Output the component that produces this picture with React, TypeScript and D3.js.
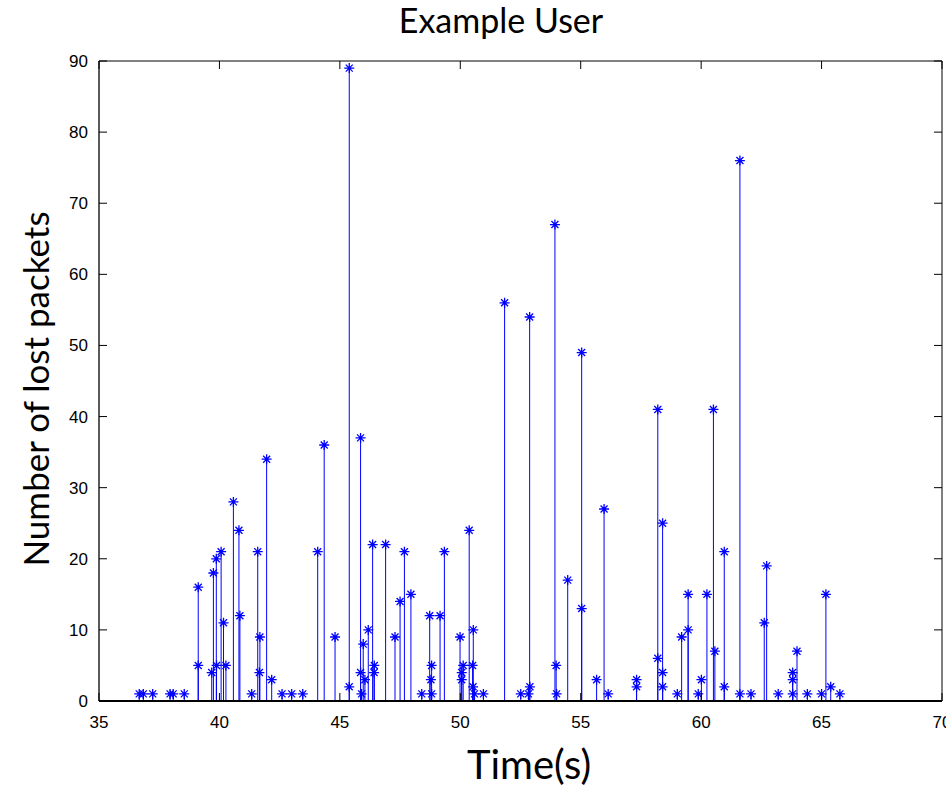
import React from "react";
import * as d3 from "d3";

// Time (s) of each loss event and the number of packets lost at that moment
const times = [
  36.67, 36.84, 37.23, 37.95, 38.08, 38.54, 39.12, 39.12, 39.68, 39.75,
  39.87, 39.88, 40.07, 40.17, 40.27, 40.58, 40.81, 40.85, 41.34, 41.59,
  41.68, 41.66, 41.96, 42.17, 42.6, 43.0, 43.46, 44.08, 44.35, 44.8,
  45.39, 45.39, 45.86, 45.86, 45.9, 45.97, 46.04, 46.18, 46.36, 46.43,
  46.42, 46.9, 47.29, 47.5, 47.68, 47.95, 48.4, 48.73, 48.81, 48.78,
  48.81, 49.16, 49.34, 49.99, 50.06, 50.06, 50.12, 50.37, 50.54, 50.51,
  50.53, 50.59, 50.96, 51.84, 52.51, 52.88, 52.89, 52.83, 53.93, 53.98,
  54.0, 54.46, 55.04, 55.04, 55.66, 55.97, 56.14, 57.32, 57.32, 58.2,
  58.2, 58.4, 58.4, 58.4, 59.01, 59.19, 59.46, 59.46, 59.88, 60.01,
  60.24, 60.51, 60.57, 60.96, 60.96, 61.61, 61.61, 62.07, 62.62, 62.72,
  63.2, 63.8, 63.8, 63.8, 63.98, 64.41, 65.0, 65.18, 65.38, 65.76,
];
const lost = [
  1, 1, 1, 1, 1, 1, 16, 5, 4, 18,
  20, 5, 21, 11, 5, 28, 24, 12, 1, 21,
  9, 4, 34, 3, 1, 1, 1, 21, 36, 9,
  89, 2, 37, 4, 1, 8, 3, 10, 22, 5,
  4, 22, 9, 14, 21, 15, 1, 12, 5, 3,
  1, 12, 21, 9, 4, 3, 5, 24, 10, 5,
  2, 1, 1, 56, 1, 54, 2, 1, 67, 5,
  1, 17, 49, 13, 3, 27, 1, 3, 2, 41,
  6, 25, 4, 2, 1, 9, 15, 10, 1, 3,
  15, 41, 7, 21, 2, 76, 1, 1, 11, 19,
  1, 4, 3, 1, 7, 1, 1, 15, 2, 1,
];
const xTicks = [35, 40, 45, 50, 55, 60, 65, 70];
const yTicks = [0, 10, 20, 30, 40, 50, 60, 70, 80, 90];

const W = 946;
const H = 789;
const margin = { left: 99, right: 4, top: 61, bottom: 88 };
const tickLen = 8;
const blue = "#0000ff";
const labelFont = "Lato, 'Open Sans', sans-serif";
const tickFont = "'Liberation Sans', Arial, sans-serif";

function Asterisk({ cx, cy }: { cx: number; cy: number }) {
  const r = 5;
  const d = 3.5;
  const path = `M${cx - r},${cy}H${cx + r}M${cx},${cy - r}V${cy + r}` +
    `M${cx - d},${cy - d}L${cx + d},${cy + d}M${cx - d},${cy + d}L${cx + d},${cy - d}`;
  return <path d={path} stroke={blue} strokeWidth={1.3} fill="none" />;
}

export default function App() {
  const x = d3.scaleLinear().domain([35, 70]).range([margin.left, W - margin.right]);
  const y = d3.scaleLinear().domain([0, 90]).range([H - margin.bottom, margin.top]);
  const [x0, x1] = x.range();
  const [y0, y1] = y.range();
  const points = d3.zip(times, lost) as [number, number][];

  return (
    <svg
      width={W}
      height={H}
      style={{ position: "absolute", left: 0, top: 0, background: "#fff" }}
    >
      <rect width={W} height={H} fill="#fff" />
      {/* stems */}
      <g>
        {points.map(([t, v], i) => (
          <line key={i} x1={x(t)} x2={x(t)} y1={y(0)} y2={y(v)} stroke={blue} strokeWidth={1} />
        ))}
      </g>
      {/* markers */}
      <g>
        {points.map(([t, v], i) => (
          <Asterisk key={i} cx={x(t)} cy={y(v)} />
        ))}
      </g>
      {/* axes box */}
      <g stroke="#000" fill="none">
        <line x1={x0} x2={x1} y1={y1} y2={y1} strokeWidth={1} />
        <line x1={x1} x2={x1} y1={y1} y2={y0} strokeWidth={1} />
        <line x1={x0} x2={x0} y1={y1} y2={y0} strokeWidth={1.3} />
        <line x1={x0} x2={x1} y1={y0} y2={y0} strokeWidth={2} />
        {xTicks.map((t) => (
          <g key={t}>
            <line x1={x(t)} x2={x(t)} y1={y0} y2={y0 - tickLen} />
            <line x1={x(t)} x2={x(t)} y1={y1} y2={y1 + tickLen} />
          </g>
        ))}
        {yTicks.map((t) => (
          <g key={t}>
            <line x1={x0} x2={x0 + tickLen} y1={y(t)} y2={y(t)} />
            <line x1={x1} x2={x1 - tickLen} y1={y(t)} y2={y(t)} />
          </g>
        ))}
      </g>
      {/* tick labels */}
      <g fontFamily={tickFont} fontSize={17} fill="#000">
        {xTicks.map((t) => (
          <text key={t} x={x(t)} y={y0 + 27} textAnchor="middle">
            {t}
          </text>
        ))}
        {yTicks.map((t) => (
          <text key={t} x={x0 - 11} y={y(t) + 6} textAnchor="end">
            {t}
          </text>
        ))}
      </g>
      {/* title and axis labels */}
      <text x={501} y={33} textAnchor="middle" fontFamily={labelFont} fontSize={34} fill="#000">
        Example User
      </text>
      <text x={529} y={779} textAnchor="middle" fontFamily={labelFont} fontSize={40} fill="#000">
        Time(s)
      </text>
      <text
        transform={`translate(49,${(y0 + y1) / 2 + 8}) rotate(-90)`}
        textAnchor="middle"
        fontFamily={labelFont}
        fontSize={35}
        fill="#000"
      >
        Number of lost packets
      </text>
    </svg>
  );
}
